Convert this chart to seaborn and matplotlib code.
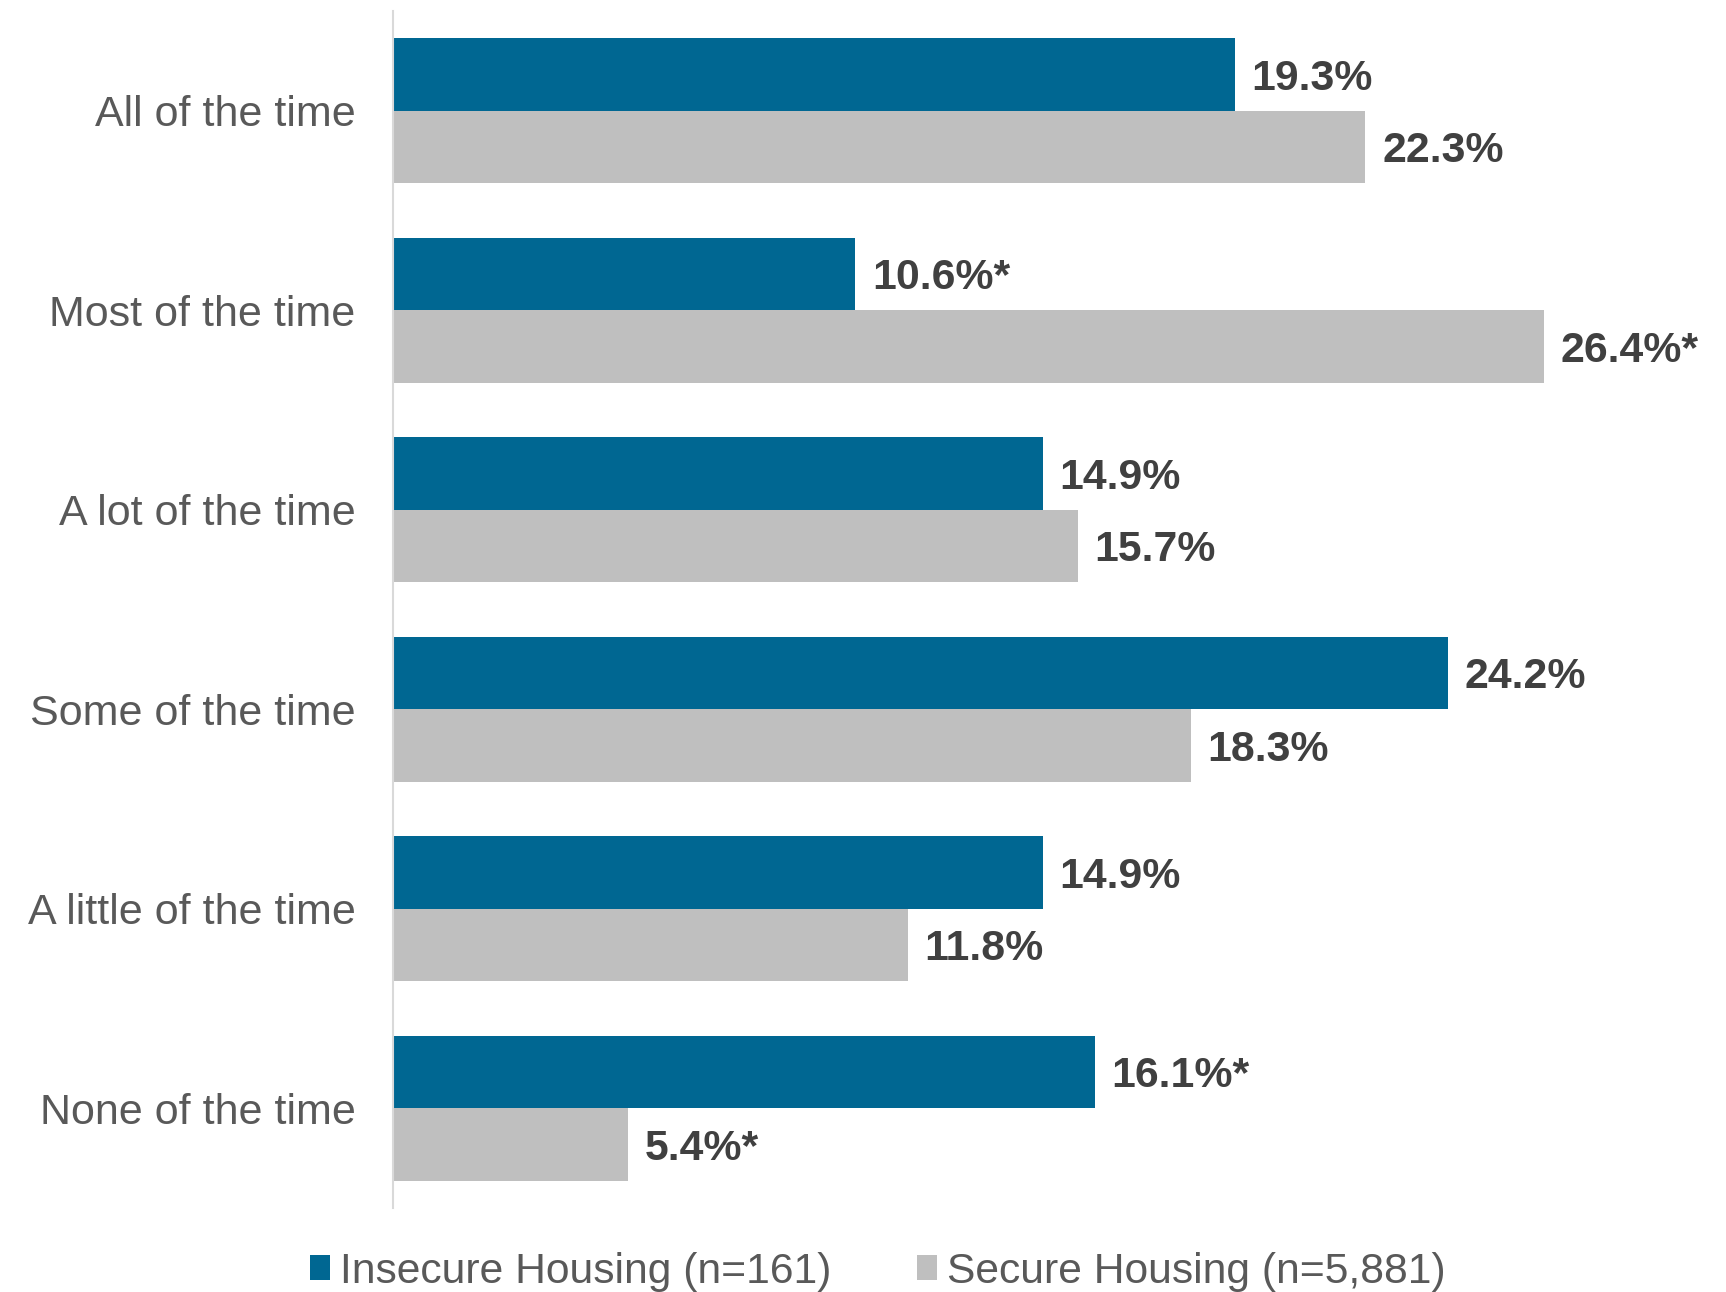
import matplotlib
matplotlib.use("Agg")
import matplotlib.pyplot as plt
import seaborn as sns
import pandas as pd

categories = ["All of the time", "Most of the time", "A lot of the time",
              "Some of the time", "A little of the time", "None of the time"]
series_names = ["Insecure Housing (n=161)", "Secure Housing (n=5,881)"]
insecure = [19.3, 10.6, 14.9, 24.2, 14.9, 16.1]
secure = [22.3, 26.4, 15.7, 18.3, 11.8, 5.4]
insecure_labels = ["19.3%", "10.6%*", "14.9%", "24.2%", "14.9%", "16.1%*"]
secure_labels = ["22.3%", "26.4%*", "15.7%", "18.3%", "11.8%", "5.4%*"]
colors = ["#006792", "#BFBFBF"]

df = pd.DataFrame({
    "category": categories * 2,
    "value": insecure + secure,
    "group": [series_names[0]] * len(categories) + [series_names[1]] * len(categories),
})

sns.set_theme(style="white")
plt.rcParams["font.family"] = ["Liberation Sans", "DejaVu Sans"]

fig = plt.figure(figsize=(17.26, 12.92), dpi=100)
ax = fig.add_axes([393 / 1726, 1 - 1208 / 1292, 1333 / 1726, (1208 - 11) / 1292])

sns.barplot(data=df, y="category", x="value", hue="group", order=categories,
            hue_order=series_names, palette=colors, saturation=1, width=0.727,
            errorbar=None, orient="h", ax=ax, linewidth=0)

for cont, labs in zip(ax.containers, [insecure_labels, secure_labels]):
    texts = ax.bar_label(cont, labels=labs, padding=12.0, fontsize=30.8,
                         fontweight="bold", color="#404040")
    for t in texts:
        t.xyann = (12.0, -3.0)

ax.set_xlim(0, 30.57)
ax.set_ylim(5.5, -0.5)
ax.set_xlabel("")
ax.set_ylabel("")
ax.set_xticks([])
ax.tick_params(axis="y", length=0, pad=27.0, labelsize=31, labelcolor="#595959")
for s in ["top", "right", "bottom"]:
    ax.spines[s].set_visible(False)
ax.spines["left"].set_color("#D9D9D9")
ax.spines["left"].set_linewidth(1.5)

handles, labels = ax.get_legend_handles_labels()
if ax.get_legend() is not None:
    ax.get_legend().remove()
fig.legend(handles, labels, loc="center", bbox_to_anchor=(0.5087, 0.0155),
           ncol=2, frameon=False, fontsize=30.7, handlelength=0.47,
           handleheight=0.52, handletextpad=0.24, columnspacing=2.0,
           labelcolor="#595959")

fig.savefig("out.png", dpi=100)
